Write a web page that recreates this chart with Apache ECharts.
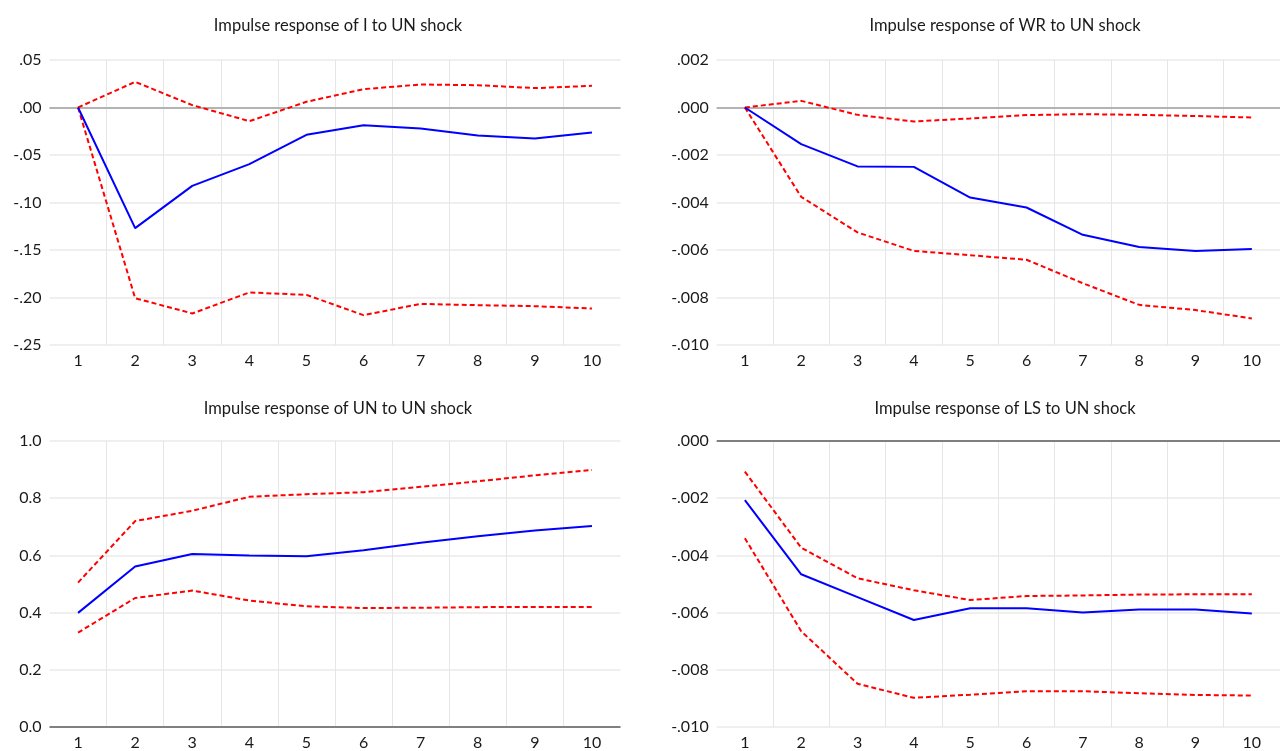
<!DOCTYPE html>
<html>
<head>
<meta charset="utf-8">
<script src="https://cdn.jsdelivr.net/npm/echarts@6/dist/echarts.min.js"></script>
<style>
  html, body { margin: 0; padding: 0; background: #ffffff; }
  #chart { width: 1280px; height: 751px; }
</style>
</head>
<body>
<div id="chart"></div>
<script>
// Horizon (periods after the shock)
const periods = ['1', '2', '3', '4', '5', '6', '7', '8', '9', '10'];

// Panel titles
const titles = [
  'Impulse response of I to UN shock',
  'Impulse response of WR to UN shock',
  'Impulse response of UN to UN shock',
  'Impulse response of LS to UN shock'
];

// Response of I
const iResp  = [0, -0.127, -0.0825, -0.0596, -0.0288, -0.0186, -0.0221, -0.0295, -0.0326, -0.0263];
const iUpper = [0, 0.027, 0.0025, -0.0144, 0.006, 0.0193, 0.0242, 0.0235, 0.0204, 0.0228];
const iLower = [0, -0.2007, -0.2168, -0.1947, -0.1972, -0.2186, -0.2067, -0.2081, -0.2091, -0.2116];

// Response of WR
const wrResp  = [0, -0.00154, -0.00248, -0.0025, -0.00379, -0.00421, -0.00536, -0.00587, -0.00604, -0.00596];
const wrUpper = [0, 0.00028, -0.00031, -0.00059, -0.00046, -0.00032, -0.00028, -0.00031, -0.00036, -0.00042];
const wrLower = [0, -0.00376, -0.00526, -0.00604, -0.00622, -0.00641, -0.0074, -0.00831, -0.00853, -0.00888];

// Response of UN
const unResp  = [0.399, 0.561, 0.605, 0.600, 0.597, 0.618, 0.644, 0.667, 0.687, 0.703];
const unUpper = [0.505, 0.720, 0.756, 0.805, 0.814, 0.821, 0.840, 0.859, 0.880, 0.899];
const unLower = [0.330, 0.451, 0.477, 0.442, 0.422, 0.416, 0.417, 0.419, 0.420, 0.420];

// Response of LS
const lsResp  = [-0.00207, -0.00466, -0.00546, -0.00626, -0.00585, -0.00585, -0.00600, -0.00589, -0.00589, -0.00603];
const lsUpper = [-0.00107, -0.00373, -0.0048, -0.00522, -0.00556, -0.00542, -0.0054, -0.00537, -0.00536, -0.00536];
const lsLower = [-0.0034, -0.00665, -0.00849, -0.00898, -0.00887, -0.00875, -0.00875, -0.00882, -0.00888, -0.0089];

// Value axis ranges per panel
const yMins = [-0.25, -0.010, 0.0, -0.010];
const yMaxs = [0.05, 0.002, 1.0, 0.000];
const yIntervals = [0.05, 0.002, 0.2, 0.002];
const yDecimals = [2, 3, 1, 3];
const yLeadingZero = [false, false, true, false];

const panelData = [
  [iResp, iUpper, iLower],
  [wrResp, wrUpper, wrLower],
  [unResp, unUpper, unLower],
  [lsResp, lsUpper, lsLower]
];

const FONT = 'Lato';
const grids = [
  { left: 49.5, top: 60, width: 571, height: 285 },
  { left: 716.7, top: 60, width: 567, height: 285 },
  { left: 49.5, top: 441, width: 571, height: 286 },
  { left: 716.7, top: 441, width: 567, height: 286 }
];
const titlePos = [
  { x: 333, y: 12 },
  { x: 1000, y: 12 },
  { x: 333, y: 395 },
  { x: 1000, y: 395 }
];

// Reference line at zero for each panel
const zeroLineStyle = [
  { color: '#b3b3b3', width: 2 },
  { color: '#b3b3b3', width: 2 },
  { color: '#808080', width: 2 },
  { color: '#5a5a5a', width: 1.5 }
];

function fmt(v, p) {
  let s = Math.abs(v) < 1e-12 ? (0).toFixed(yDecimals[p]) : v.toFixed(yDecimals[p]);
  if (!yLeadingZero[p]) s = s.replace(/^(-?)0\./, '$1.');
  return s;
}

const xAxes = [], yAxes = [], series = [], titleOpts = [];
for (let p = 0; p < 4; p++) {
  titleOpts.push({
    text: titles[p],
    left: titlePos[p].x,
    top: titlePos[p].y,
    textAlign: 'center',
    textStyle: { fontFamily: FONT, fontSize: 16.5, fontWeight: 'normal', color: '#1a1a1a' }
  });
  xAxes.push({
    type: 'category',
    gridIndex: p,
    data: periods,
    boundaryGap: true,
    axisLine: { show: false },
    axisTick: { show: false },
    axisLabel: { fontFamily: FONT, fontSize: 16, color: '#1a1a1a', margin: 8 },
    splitLine: {
      show: true,
      showMinLine: false,
      showMaxLine: false,
      lineStyle: { color: '#e6e6e6', width: 1 }
    }
  });
  yAxes.push({
    type: 'value',
    gridIndex: p,
    min: yMins[p],
    max: yMaxs[p],
    interval: yIntervals[p],
    axisLine: { show: false },
    axisTick: { show: false },
    axisLabel: {
      fontFamily: FONT, fontSize: 16, color: '#1a1a1a', margin: 8,
      formatter: (v) => fmt(v, p)
    },
    splitLine: { show: true, lineStyle: { color: '#efefef', width: 2 } }
  });
  const [resp, upper, lower] = panelData[p];
  series.push({
    type: 'line',
    xAxisIndex: p, yAxisIndex: p,
    data: upper,
    symbol: 'none',
    lineStyle: { color: '#ff0000', width: 2, type: [5, 3] },
    z: 3,
    markLine: {
      silent: true,
      symbol: 'none',
      label: { show: false },
      lineStyle: { color: zeroLineStyle[p].color, width: zeroLineStyle[p].width, type: 'solid' },
      data: [{ yAxis: 0 }],
      z: 1
    }
  });
  series.push({
    type: 'line',
    xAxisIndex: p, yAxisIndex: p,
    data: lower,
    symbol: 'none',
    lineStyle: { color: '#ff0000', width: 2, type: [5, 3] },
    z: 3
  });
  series.push({
    type: 'line',
    xAxisIndex: p, yAxisIndex: p,
    data: resp,
    symbol: 'none',
    lineStyle: { color: '#0000ff', width: 2 },
    z: 4
  });
}

const chart = echarts.init(document.getElementById('chart'), null, { renderer: 'canvas' });
chart.setOption({
  backgroundColor: '#ffffff',
  animation: false,
  title: titleOpts,
  grid: grids,
  xAxis: xAxes,
  yAxis: yAxes,
  series: series
});
</script>
</body>
</html>
